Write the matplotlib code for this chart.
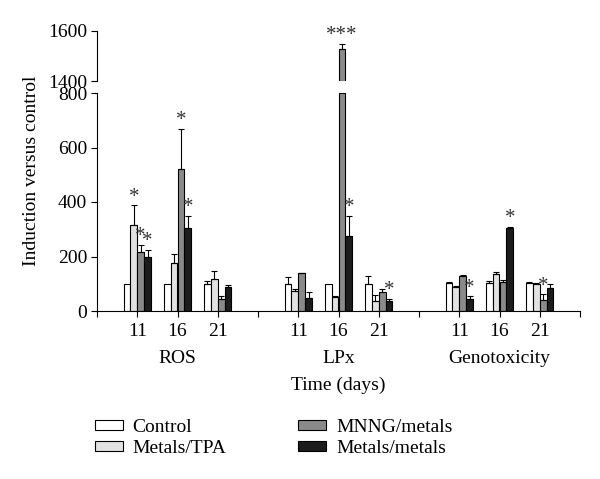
import matplotlib.pyplot as plt
import numpy as np

plt.rcParams['font.family'] = ['Liberation Serif', 'DejaVu Serif']

# categories
assays = ["ROS", "LPx", "Genotoxicity"]
days = ["11", "16", "21"]
treatments = ["Control", "Metals/TPA", "MNNG/metals", "Metals/metals"]

# values per treatment: ROS 11/16/21, LPx 11/16/21, Genotoxicity 11/16/21
control = [100, 100, 100, 100, 100, 100, 104, 101, 103]
metals_tpa = [315, 175, 117, 73, 50, 38, 89, 136, 100]
mnng_metals = [215, 520, 45, 138, 1527, 70, 130, 106, 41]
metals_metals = [197, 306, 88, 49, 275, 35, 43, 305, 86]

control_err = [0, 0, 10, 24, 0, 28, 3, 10, 3]
metals_tpa_err = [73, 33, 28, 8, 6, 22, 3, 6, 3]
mnng_metals_err = [29, 149, 10, 3, 21, 10, 3, 9, 20]
metals_metals_err = [28, 44, 7, 19, 75, 10, 11, 3, 12]

# significance marks
control_sig = ["", "", "", "", "", "", "", "", ""]
metals_tpa_sig = ["*", "", "", "", "", "", "", "", ""]
mnng_metals_sig = ["*", "*", "", "", "***", "", "", "", "*"]
metals_metals_sig = ["*", "*", "", "", "*", "*", "*", "*", ""]

values = [control, metals_tpa, mnng_metals, metals_metals]
errors = [control_err, metals_tpa_err, mnng_metals_err, metals_metals_err]
sigs = [control_sig, metals_tpa_sig, mnng_metals_sig, metals_metals_sig]
colors = ["white", "#e2e2e2", "#8a8a8a", "#1c1c1c"]

LOW_MAX = 800
HIGH_MIN, HIGH_MAX = 1400, 1600
FS = 14

fig = plt.figure(figsize=(6, 4.79), dpi=100)
ax = fig.add_axes([97 / 600, 1 - 311 / 479, 483 / 600, 218 / 479])
ax_hi = fig.add_axes([97 / 600, 1 - 81 / 479, 483 / 600, 50 / 479])

# slot positions: three days per assay, an empty slot between assays
pos = np.array([1, 2, 3, 5, 6, 7, 9, 10, 11])
width = 0.17

for i, (vals, errs, sg, col, name) in enumerate(zip(values, errors, sigs, colors, treatments)):
    x = pos + (i - 1.5) * width
    vals = np.array(vals)
    errs = np.array(errs)
    low_h = np.minimum(vals, LOW_MAX)
    ax.bar(x, low_h, width, color=col, edgecolor="black", linewidth=0.8, label=name)
    tall = vals > LOW_MAX
    if tall.any():
        ax_hi.bar(x[tall], vals[tall] - HIGH_MIN, width, bottom=HIGH_MIN,
                  color=col, edgecolor="black", linewidth=0.8)
    for xi, v, e, s in zip(x, vals, errs, sg):
        target = ax_hi if v > LOW_MAX else ax
        if e > 0:
            target.errorbar(xi, v, yerr=[[0], [e]], fmt="none", ecolor="black",
                            elinewidth=0.8, capsize=2.5, capthick=0.8)
        if s:
            target.annotate(s, (xi, v + e), xytext=(0, -1), textcoords="offset points",
                            ha="center", va="bottom", fontsize=15, color="#333333",
                            annotation_clip=False)

# lower axes
ax.set_xlim(0, 12)
ax.set_ylim(0, LOW_MAX)
ax.set_yticks([0, 200, 400, 600, 800])
ax.set_xticks(np.arange(0, 13))
ax.set_xticklabels([""] + days + [""] + days + [""] + days + [""])
ax.tick_params(axis="both", direction="out", length=4, width=0.8, labelsize=FS, pad=3)
ax.tick_params(axis="x", pad=5)
ax.spines["top"].set_visible(False)
ax.spines["right"].set_visible(False)

for k, a in enumerate(assays):
    ax.text(pos[3 * k + 1], -0.22, a, transform=ax.get_xaxis_transform(),
            ha="center", va="center", fontsize=FS)
ax.text(6, -0.34, "Time (days)", transform=ax.get_xaxis_transform(),
        ha="center", va="center", fontsize=FS)

# upper axes (broken part)
ax_hi.set_xlim(0, 12)
ax_hi.set_ylim(HIGH_MIN, HIGH_MAX)
ax_hi.set_yticks([HIGH_MIN, HIGH_MAX])
ax_hi.set_xticks([])
ax_hi.tick_params(axis="y", direction="out", length=4, width=0.8, labelsize=FS, pad=3)
for side in ["top", "right", "bottom"]:
    ax_hi.spines[side].set_visible(False)
ax_hi.patch.set_visible(False)

fig.text(32 / 600, 1 - 171 / 479, "Induction versus control", rotation=90,
         ha="center", va="center", fontsize=FS)

fig.legend(loc="upper left", bbox_to_anchor=(77 / 600, 1 - 401 / 479), ncol=2,
           frameon=False, fontsize=FS, handlelength=1.45, handleheight=0.42,
           handletextpad=0.5, columnspacing=3.7, labelspacing=0.25)

fig.savefig("out.png", dpi=100)
